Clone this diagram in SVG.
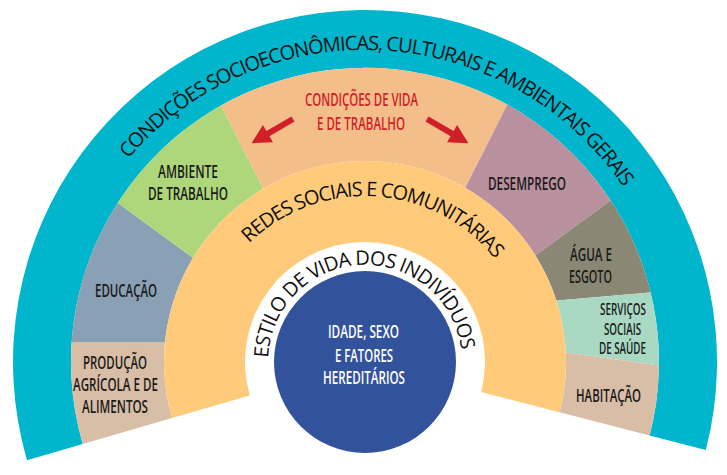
<svg xmlns="http://www.w3.org/2000/svg" xmlns:xlink="http://www.w3.org/1999/xlink" width="727" height="475" viewBox="0 0 727 475">
<style>
.arc{font-family:"Open Sans","Noto Sans","DejaVu Sans",sans-serif;fill:#111;}
.lbl{font-family:"Open Sans","Noto Sans","DejaVu Sans",sans-serif;font-weight:600;font-size:18px;fill:#1a1a1a;text-anchor:middle;}
.sm{font-size:16.5px;}
.red{fill:#d11f2a;}
.wht{fill:#ffffff;}
</style>
<defs>
<clipPath id="ringClip">
<path d="M 82.7 444.0 A 294 294 0 1 1 649.6 435.6 L 559.6 412.3 A 201 201 0 1 0 172.0 418.1 Z"/>
</clipPath>
<path id="outerPath" d="M 61.2 290.8 A 312 312 0 0 1 674.8 325.1"/>
<path id="redesPath" d="M 200.8 337.5 A 166 166 0 0 1 530.9 357.7"/>
<path id="estiloPath" d="M 268.1 357.8 A 97 97 0 0 1 461.2 349.3"/>
<path id="arrow" d="M0,-3 L29,-3 L29,-10 L48,0 L29,10 L29,3 L0,3 Z" fill="#d11f2a"/>
</defs>

<g id="outer-ring">
<path d="M 27.0 460.2 A 352 352 0 1 1 705.8 450.1 L 649.6 435.6 A 294 294 0 1 0 82.7 444.0 Z" fill="#00b5cc"/>
<text class="arc" font-size="20" letter-spacing="-1.1"><textPath href="#outerPath" xlink:href="#outerPath" startOffset="50%" text-anchor="middle">CONDIÇÕES SOCIOECONÔMICAS, CULTURAIS E AMBIENTAIS GERAIS</textPath></text>
</g>

<g id="segments" clip-path="url(#ringClip)">
<g id="producao"><polygon points="0,342 230,342 230,480 0,480" fill="#d8bea6"/></g>
<g id="educacao"><polygon points="0,116.5 230,285 230,342 0,342" fill="#8aa0b4"/></g>
<g id="ambiente"><polygon points="0,0 168,0 283,228 230,285 0,116.5" fill="#aed77b"/></g>
<g id="condicoes"><polygon points="168,0 560,0 445,228 283,228" fill="#f4be8b"/></g>
<g id="desemprego"><polygon points="560,0 727,0 727,115.6 499,282 445,228" fill="#b9909d"/></g>
<g id="agua"><polygon points="727,115.6 727,286 516,304 499,282" fill="#8a8875"/></g>
<g id="servicos"><polygon points="516,304 727,286 727,375 520,346" fill="#a9d9c3"/></g>
<g id="habitacao"><polygon points="520,346 727,375 727,480 520,480" fill="#d8bea6"/></g>
</g>

<g id="labels">
<text class="lbl red" x="361.5" y="106" textLength="113" lengthAdjust="spacingAndGlyphs">CONDIÇÕES DE VIDA</text>
<text class="lbl red" x="361" y="130" textLength="88" lengthAdjust="spacingAndGlyphs">E DE TRABALHO</text>
<text class="lbl" x="188" y="178" textLength="60" lengthAdjust="spacingAndGlyphs">AMBIENTE</text>
<text class="lbl" x="188" y="200" textLength="80" lengthAdjust="spacingAndGlyphs">DE TRABALHO</text>
<text class="lbl" x="527" y="190" textLength="78" lengthAdjust="spacingAndGlyphs">DESEMPREGO</text>
<text class="lbl" x="126" y="297" textLength="62" lengthAdjust="spacingAndGlyphs">EDUCAÇÃO</text>
<text class="lbl" x="115" y="369" textLength="64" lengthAdjust="spacingAndGlyphs">PRODUÇÃO</text>
<text class="lbl" x="115.5" y="391" textLength="85" lengthAdjust="spacingAndGlyphs">AGRÍCOLA E DE</text>
<text class="lbl" x="115" y="413" textLength="66" lengthAdjust="spacingAndGlyphs">ALIMENTOS</text>
<text class="lbl" x="591" y="261" textLength="42" lengthAdjust="spacingAndGlyphs">ÁGUA E</text>
<text class="lbl" x="590.5" y="283" textLength="43" lengthAdjust="spacingAndGlyphs">ESGOTO</text>
<text class="lbl sm" x="623" y="315" textLength="46" lengthAdjust="spacingAndGlyphs">SERVIÇOS</text>
<text class="lbl sm" x="622.5" y="335" textLength="37" lengthAdjust="spacingAndGlyphs">SOCIAIS</text>
<text class="lbl sm" x="622.5" y="354" textLength="47" lengthAdjust="spacingAndGlyphs">DE SAÚDE</text>
<text class="lbl" x="608.5" y="402" textLength="65" lengthAdjust="spacingAndGlyphs">HABITAÇÃO</text>
</g>

<g id="redes-sociais">
<path d="M 172.0 418.1 A 201 201 0 1 1 559.6 412.3 L 481.2 392.0 A 120 120 0 1 0 249.8 395.5 Z" fill="#ffcb7b"/>
<text class="arc" font-size="20" letter-spacing="-1.1"><textPath href="#redesPath" xlink:href="#redesPath" startOffset="50%" text-anchor="middle">REDES SOCIAIS E COMUNITÁRIAS</textPath></text>
</g>

<g id="estilo-de-vida">
<text class="arc" font-size="20" letter-spacing="-0.8"><textPath href="#estiloPath" xlink:href="#estiloPath" startOffset="50%" text-anchor="middle">ESTILO DE VIDA DOS INDIVÍDUOS</textPath></text>
</g>

<g id="idade-sexo">
<circle cx="365" cy="362" r="91" fill="#33529c"/>
<text class="lbl wht" x="363.5" y="338" textLength="71" lengthAdjust="spacingAndGlyphs">IDADE, SEXO</text>
<text class="lbl wht" x="364" y="362" textLength="58" lengthAdjust="spacingAndGlyphs">E FATORES</text>
<text class="lbl wht" x="364" y="384" textLength="82" lengthAdjust="spacingAndGlyphs">HEREDITÁRIOS</text>
</g>

<g id="connectors">
<use href="#arrow" xlink:href="#arrow" transform="translate(293,119) rotate(149.7)"/>
<use href="#arrow" xlink:href="#arrow" transform="translate(427,119) rotate(30.3)"/>
</g>
</svg>
